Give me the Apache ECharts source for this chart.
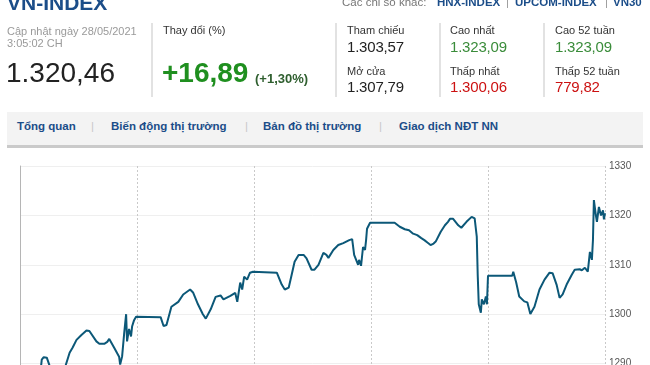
<!DOCTYPE html>
<html>
<head>
<meta charset="utf-8">
<script src="https://cdn.jsdelivr.net/npm/echarts@6/dist/echarts.min.js"></script>
<style>
  html, body { margin: 0; padding: 0; background: #fff; overflow: hidden; }
  #wrap { position: relative; width: 650px; height: 365px; overflow: hidden; font-family: "Liberation Sans", Arial, sans-serif; }
  #chart { position: absolute; left: 0; top: 0; width: 650px; height: 440px; }
  .t { position: absolute; line-height: 1; white-space: nowrap; }
  .blue { color: #1b4d89; font-weight: bold; }
  .vsep { position: absolute; width: 2px; background: #e2e2e2; }
  .lbl { font-size: 11px; color: #333; }
  .val { font-size: 15px; color: #222; letter-spacing: -0.2px; }
  .up { color: #3a8c3a; }
  .down { color: #cc1111; }
  .tab { font-size: 11.5px; font-weight: bold; color: #1b4d89; }
  .bar { color: #c8c8c8; font-size: 11.5px; }
</style>
</head>
<body>
<div id="wrap">
  <div id="chart"></div>

  <div class="t blue" style="left:7px;top:-8px;font-size:21px;">VN-INDEX</div>

  <div class="t" style="left:342px;top:-3px;font-size:11.5px;color:#777;">Các chỉ số khác:</div>
  <div class="t blue" style="left:437px;top:-3px;font-size:11.5px;">HNX-INDEX</div>
  <div class="t" style="left:506px;top:-3px;font-size:11.5px;color:#999;">|</div>
  <div class="t blue" style="left:515px;top:-3px;font-size:11.5px;">UPCOM-INDEX</div>
  <div class="t" style="left:605px;top:-3px;font-size:11.5px;color:#999;">|</div>
  <div class="t blue" style="left:613px;top:-3px;font-size:11.5px;">VN30</div>

  <div class="t" style="left:7px;top:26px;font-size:11px;color:#9a9a9a;">Cập nhật ngày 28/05/2021</div>
  <div class="t" style="left:7px;top:38px;font-size:11px;color:#9a9a9a;">3:05:02 CH</div>
  <div class="t" style="left:6px;top:59px;font-size:28px;color:#222;">1.320,46</div>

  <div class="vsep" style="left:151px;top:23px;height:74px;"></div>
  <div class="t lbl" style="left:163px;top:25px;">Thay đổi (%)</div>
  <div class="t" style="left:162px;top:59px;font-size:28px;font-weight:bold;color:#1f8f1f;">+16,89</div>
  <div class="t" style="left:255px;top:72px;font-size:13px;font-weight:bold;color:#2f5f2f;">(+1,30%)</div>

  <div class="vsep" style="left:335px;top:23px;height:74px;"></div>
  <div class="vsep" style="left:439px;top:23px;height:74px;"></div>
  <div class="vsep" style="left:543px;top:23px;height:74px;"></div>

  <div class="t lbl" style="left:347px;top:25px;">Tham chiếu</div>
  <div class="t val" style="left:347px;top:39px;">1.303,57</div>
  <div class="t lbl" style="left:347px;top:66px;">Mở cửa</div>
  <div class="t val" style="left:347px;top:79px;">1.307,79</div>

  <div class="t lbl" style="left:450px;top:25px;">Cao nhất</div>
  <div class="t val up" style="left:450px;top:39px;">1.323,09</div>
  <div class="t lbl" style="left:450px;top:66px;">Thấp nhất</div>
  <div class="t val down" style="left:450px;top:79px;">1.300,06</div>

  <div class="t lbl" style="left:555px;top:25px;">Cao 52 tuần</div>
  <div class="t val up" style="left:555px;top:39px;">1.323,09</div>
  <div class="t lbl" style="left:555px;top:66px;">Thấp 52 tuần</div>
  <div class="t val down" style="left:555px;top:79px;">779,82</div>

  <div style="position:absolute;left:7px;top:112px;width:636px;height:33px;background:#f3f3f3;border-bottom:3px solid #cacaca;"></div>
  <div class="t tab" style="left:17px;top:121px;">Tổng quan</div>
  <div class="t bar" style="left:91px;top:121px;">|</div>
  <div class="t tab" style="left:111px;top:121px;">Biến động thị trường</div>
  <div class="t bar" style="left:245px;top:121px;">|</div>
  <div class="t tab" style="left:263px;top:121px;">Bản đồ thị trường</div>
  <div class="t bar" style="left:379px;top:121px;">|</div>
  <div class="t tab" style="left:399px;top:121px;">Giao dịch NĐT NN</div>
</div>

<script>
// Trading days shown in the 5-session window (Mon 24/05 – Fri 28/05/2021)
const tradeDays = ['24/05', '25/05', '26/05', '27/05', '28/05'];

// Intraday VN-INDEX per session: [fraction of session elapsed, index value]
const day1 = [[0,1287.0],[0.169,1287.0],[0.186,1290.8],[0.203,1291.3],[0.229,1291.2],[0.254,1289.5],[0.297,1288.5],
  [0.356,1288.2],[0.390,1289.6],[0.424,1292.2],[0.449,1293.2],[0.483,1294.8],[0.525,1295.8],[0.568,1296.7],
  [0.593,1296.6],[0.610,1296.3],[0.653,1294.5],[0.678,1294.0],[0.695,1294.2],[0.720,1294.0],[0.746,1294.4],
  [0.763,1295.0],[0.805,1293.2],[0.847,1291.4],[0.856,1289.8],[0.873,1291.5],[0.890,1296.0],[0.907,1300.0],
  [0.915,1294.5],[0.932,1297.0],[0.949,1295.5],[0.958,1297.5],[0.975,1298.8],[0.992,1299.5]];
const day2 = [[0,1299.4],[0.202,1299.4],[0.227,1297.6],[0.252,1297.8],[0.294,1301.5],[0.353,1302.5],[0.395,1304.0],
  [0.454,1305.0],[0.479,1304.4],[0.521,1302.0],[0.563,1300.0],[0.588,1299.1],[0.630,1301.0],[0.672,1303.5],
  [0.714,1303.8],[0.739,1303.0],[0.756,1303.3],[0.798,1303.7],[0.840,1304.3],[0.857,1302.5],[0.882,1306.4],
  [0.899,1305.0],[0.916,1307.6],[0.941,1307.0],[0.966,1308.4],[0.992,1308.6]];
const day3 = [[0,1308.4],[0.195,1308.4],[0.237,1306.0],[0.263,1305.0],[0.297,1305.4],[0.322,1308.0],[0.347,1310.6],
  [0.381,1312.0],[0.424,1312.0],[0.449,1311.3],[0.492,1309.0],[0.517,1309.0],[0.551,1310.0],[0.593,1312.4],
  [0.619,1312.0],[0.636,1311.4],[0.678,1313.0],[0.720,1314.0],[0.763,1314.4],[0.814,1315.0],[0.839,1315.2],
  [0.856,1312.0],[0.873,1311.0],[0.890,1310.0],[0.898,1311.0],[0.915,1309.8],[0.932,1313.6],[0.949,1313.0],
  [0.958,1315.0],[0.966,1317.3],[0.983,1317.0],[0.992,1318.5]];
const day4 = [[0,1318.5],[0.202,1318.5],[0.246,1317.7],[0.289,1317.2],[0.325,1317.0],[0.360,1316.3],[0.395,1316.0],
  [0.430,1315.4],[0.456,1315.0],[0.482,1314.5],[0.509,1314.0],[0.535,1314.3],[0.553,1314.7],[0.596,1316.7],
  [0.632,1318.0],[0.658,1318.7],[0.675,1319.3],[0.702,1319.3],[0.746,1318.0],[0.772,1317.5],[0.816,1318.7],
  [0.860,1319.7],[0.886,1319.4],[0.895,1319.0],[0.904,1315.7],[0.912,1308.0],[0.921,1302.0],[0.939,1300.3],
  [0.947,1303.0],[0.965,1302.0],[0.982,1303.6],[0.991,1302.0]];
const day5 = [[0,1307.8],[0.207,1307.8],[0.216,1308.6],[0.241,1306.4],[0.267,1303.6],[0.310,1302.6],[0.336,1302.4],
  [0.362,1300.06],[0.397,1301.5],[0.440,1305.0],[0.483,1307.0],[0.526,1308.4],[0.552,1308.3],[0.586,1306.0],
  [0.612,1303.3],[0.638,1304.0],[0.672,1306.0],[0.716,1308.0],[0.741,1309.0],[0.784,1309.1],[0.802,1308.9],
  [0.828,1309.4],[0.853,1308.6],[0.871,1312.6],[0.888,1311.0],[0.897,1315.0],[0.905,1323.09],[0.922,1320.0],
  [0.931,1318.7],[0.948,1321.7],[0.966,1320.0],[0.974,1319.7],[0.983,1321.0],[0.991,1319.2],[1,1320.46]];

// Right-hand value axis ticks
const yTicks = [1280, 1290, 1300, 1310, 1320, 1330];

const sessions = [day1, day2, day3, day4, day5];
const series = [];
sessions.forEach((day, d) => day.forEach(([f, v]) => series.push([d + f, v])));

const chart = echarts.init(document.getElementById('chart'), null, { renderer: 'canvas' });
chart.setOption({
  animation: false,
  grid: { left: 20, right: 45, top: 166, height: 247, outerBoundsMode: 'none', containLabel: false },
  xAxis: {
    type: 'value', min: 0, max: tradeDays.length, interval: 1,
    axisLine: { show: false }, axisTick: { show: false },
    axisLabel: { show: false },
    splitLine: { show: true, lineStyle: { color: '#c9c9c9', type: [2, 2], width: 1 } }
  },
  yAxis: {
    type: 'value', position: 'right',
    min: yTicks[0], max: yTicks[yTicks.length - 1], interval: 10,
    axisLine: { show: true, lineStyle: { color: '#b5b5b5', width: 1 } },
    axisTick: { show: false },
    axisLabel: { color: '#555', fontSize: 10, margin: 4, fontFamily: 'Liberation Sans', formatter: v => String(v) },
    splitLine: { show: true, lineStyle: { color: '#efefef', width: 1 } }
  },
  series: [{
    type: 'line', data: series, showSymbol: false, smooth: false,
    lineStyle: { color: '#0c5878', width: 2 }
  }]
});
</script>
</body>
</html>
